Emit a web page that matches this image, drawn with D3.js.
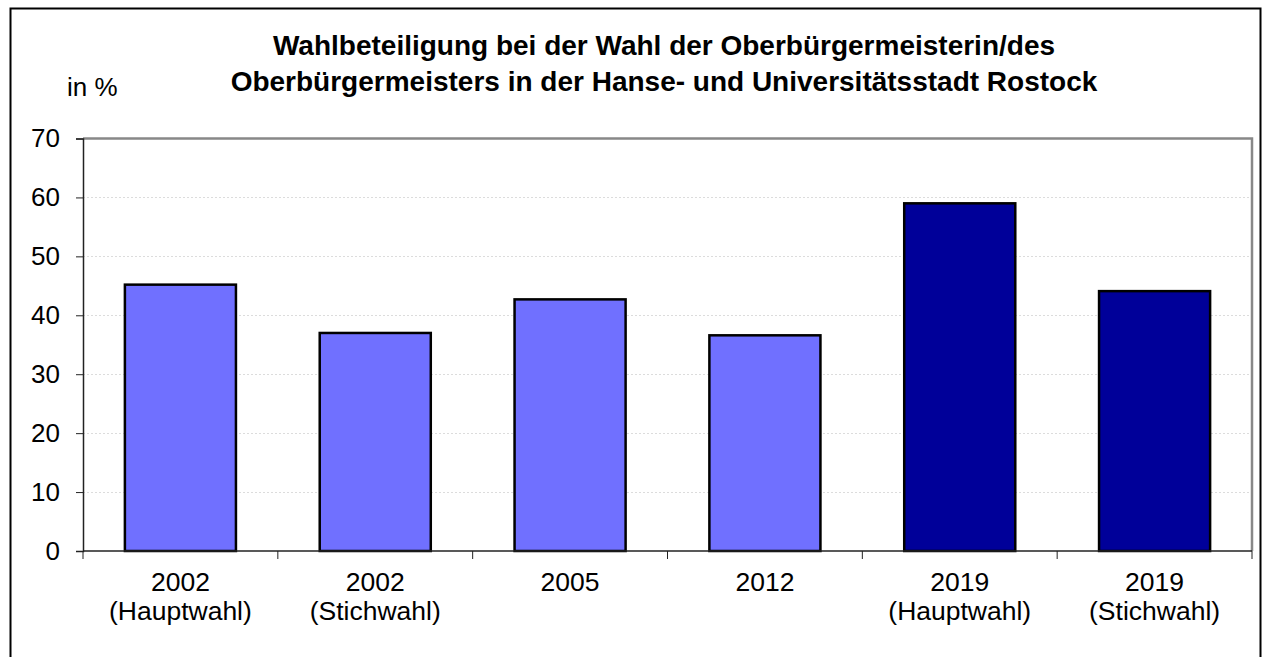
<!DOCTYPE html>
<html>
<head>
<meta charset="utf-8">
<script src="https://cdn.jsdelivr.net/npm/d3@7"></script>
<style>
	body { margin: 0; background: #fff; }
	svg { display: block; font-family: "Liberation Sans", Arial, sans-serif; }
</style>
</head>
<body>
<div id="chart"></div>
<script>
'use strict';

// data
const years = ["2002", "2002", "2005", "2012", "2019", "2019"];
const subLabels = ["(Hauptwahl)", "(Stichwahl)", "", "", "(Hauptwahl)", "(Stichwahl)"];
const turnout = [45.2, 37.0, 42.7, 36.6, 59.0, 44.1];
const barColors = ["#7070ff", "#7070ff", "#7070ff", "#7070ff", "#000099", "#000099"];
const yTicks = [0, 10, 20, 30, 40, 50, 60, 70];
const titleLines = [
	"Wahlbeteiligung bei der Wahl der Oberbürgermeisterin/des",
	"Oberbürgermeisters in der Hanse- und Universitätsstadt Rostock"
];

const width = 1263, height = 657;
const plot = { left: 83, right: 1252, top: 138.5, bottom: 551 };

const svg = d3.select("#chart")
	.append("svg")
		.attr("width", width)
		.attr("height", height);

// outer frame (runs off the bottom like the original)
svg.append("rect")
	.attr("x", 10.5)
	.attr("y", 8.5)
	.attr("width", 1250)
	.attr("height", 700)
	.attr("fill", "none")
	.attr("stroke", "#000")
	.attr("stroke-width", 2);

// title
svg.append("text")
	.attr("text-anchor", "middle")
	.attr("font-weight", "bold")
	.attr("font-size", 28)
	.attr("fill", "#000")
	.selectAll("tspan")
	.data(titleLines)
	.join("tspan")
		.attr("x", 664)
		.attr("y", (d, i) => 55 + i * 36)
		.text(d => d);

svg.append("text")
	.attr("x", 67)
	.attr("y", 96)
	.attr("font-size", 26)
	.attr("fill", "#000")
	.text("in %");

const xScale = d3.scaleBand()
	.domain(d3.range(years.length))
	.range([plot.left, plot.right])
	.paddingInner(0.43)
	.paddingOuter(0.215);

const yScale = d3.scaleLinear()
	.domain([0, 70])
	.range([plot.bottom, plot.top]);

// gridlines
svg.append("g")
	.selectAll("line")
	.data(yTicks.filter(t => t > 0 && t < 70))
	.join("line")
		.attr("x1", plot.left)
		.attr("x2", plot.right)
		.attr("y1", d => Math.round(yScale(d)) + 0.5)
		.attr("y2", d => Math.round(yScale(d)) + 0.5)
		.attr("stroke", "#dcdcdc")
		.attr("stroke-dasharray", "2,2");

// top and right border of plot area
svg.append("path")
	.attr("d", `M${plot.left},${plot.top}H${plot.right}V${plot.bottom}`)
	.attr("fill", "none")
	.attr("stroke", "#888")
	.attr("stroke-width", 2.5);

// bars
svg.append("g")
	.selectAll("rect")
	.data(turnout)
	.join("rect")
		.attr("x", (d, i) => xScale(i))
		.attr("y", d => yScale(d))
		.attr("width", xScale.bandwidth())
		.attr("height", d => yScale(0) - yScale(d))
		.attr("fill", (d, i) => barColors[i])
		.attr("stroke", "#000")
		.attr("stroke-width", 2.5);

// y axis
const yAxis = svg.append("g")
	.attr("transform", `translate(${plot.left},0)`)
	.call(d3.axisLeft(yScale).tickValues(yTicks).tickSize(7).tickPadding(16));
yAxis.select(".domain").attr("stroke", "#222").attr("stroke-width", 1.5);
yAxis.selectAll(".tick line").attr("stroke", "#222");
yAxis.selectAll(".tick text")
	.attr("font-size", 26)
	.attr("font-family", "Liberation Sans, Arial, sans-serif")
	.attr("fill", "#000");

// x axis line with ticks at band boundaries
svg.append("line")
	.attr("x1", plot.left)
	.attr("x2", plot.right)
	.attr("y1", plot.bottom)
	.attr("y2", plot.bottom)
	.attr("stroke", "#222")
	.attr("stroke-width", 1.5);

const step = xScale.step();
svg.append("g")
	.selectAll("line")
	.data(d3.range(years.length + 1))
	.join("line")
		.attr("x1", i => plot.left + i * step)
		.attr("x2", i => plot.left + i * step)
		.attr("y1", plot.bottom)
		.attr("y2", plot.bottom + 8)
		.attr("stroke", "#222");

// category labels
const labels = svg.append("g")
	.selectAll("text")
	.data(years)
	.join("text")
		.attr("text-anchor", "middle")
		.attr("font-size", 26.5)
		.attr("fill", "#000");
labels.append("tspan")
	.attr("x", (d, i) => xScale(i) + xScale.bandwidth() / 2)
	.attr("y", 591)
	.text(d => d);
labels.append("tspan")
	.attr("x", (d, i) => xScale(i) + xScale.bandwidth() / 2)
	.attr("y", 620)
	.text((d, i) => subLabels[i]);
</script>
</body>
</html>
